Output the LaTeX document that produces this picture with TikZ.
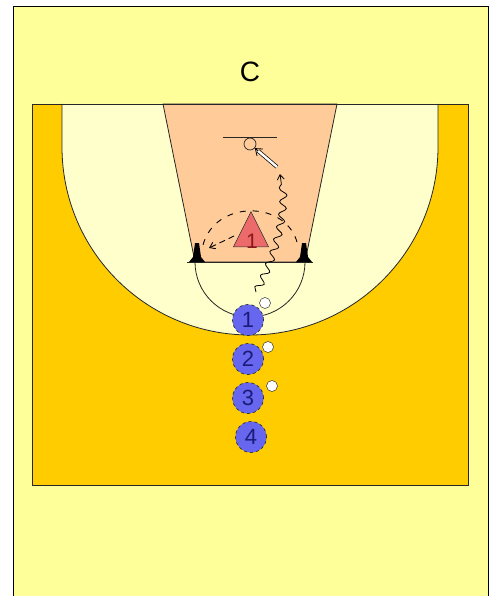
\documentclass[tikz,border=0pt]{standalone}
\usepackage{fontspec}
\setmainfont{Liberation Sans}
\usetikzlibrary{arrows, arrows.meta, shapes.geometric, calc, positioning, decorations.pathmorphing}

\definecolor{bgYellow}{HTML}{FFFF99}
\definecolor{courtOrange}{HTML}{FFCC00}
\definecolor{arcCream}{HTML}{FFFFCC}
\definecolor{lanePeach}{HTML}{FFCC99}
\definecolor{playerBlue}{HTML}{6666EE}
\definecolor{playerText}{HTML}{1C1C78}
\definecolor{defRed}{HTML}{EC6A6A}
\definecolor{defText}{HTML}{8A1818}

\begin{document}
\begin{tikzpicture}[x=1pt, y=-1pt]
    \def\plSize{31pt}
    \def\ballSize{11pt}
    \edef\courtLW{0.8pt}

    \tikzstyle{courtline} = [draw=black!85, line width=\courtLW]
    \tikzstyle{player} = [circle, draw=black!80, dashed, line width=0.7pt, fill=playerBlue, minimum size=\plSize, inner sep=0pt, text=playerText, font=\fontsize{22}{22}\selectfont]
    \tikzstyle{ball} = [circle, draw=black!80, line width=0.5pt, fill=white, minimum size=\ballSize, inner sep=0pt]
    \tikzstyle{defender} = [isosceles triangle, isosceles triangle stretches, shape border rotate=90, minimum width=35pt, minimum height=35pt, inner sep=0pt, draw=black!80, line width=0.6pt, fill=defRed]
    \tikzstyle{dribble} = [decorate, decoration={snake, amplitude=3.6pt, segment length=13pt, post length=7pt}, -{Straight Barb[length=5pt, width=7pt]}, line width=0.8pt]
    \tikzstyle{cut} = [dashed, dash pattern=on 6pt off 7pt, line width=0.9pt]
    \tikzstyle{shot} = [double, double distance=2.4pt, line width=0.7pt]

    \useasboundingbox (0,0) rectangle (490,596);
    \fill[white] (0,0) rectangle (490,596);

    % page and court
    \fill[bgYellow] (13,6) rectangle (488,596);
    \draw[line width=\courtLW] (13,596) -- (13,6) -- (488,6) -- (488,596);
    \node (title) at (250,72) {\fontsize{28}{28}\selectfont C};

    \fill[courtOrange] (32,104) rectangle (468,485);
    \fill[arcCream] (62,104) -- (62,147) arc[start angle=180, end angle=0, radius=188] -- (438,104) -- cycle;
    \draw[courtline] (62,104) -- (62,147) arc[start angle=180, end angle=0, radius=188] -- (438,104);
    \filldraw[courtline, fill=lanePeach] (163,104) -- (337,104) -- (305,262) -- (195,262) -- cycle;
    \draw[courtline] (32,104) rectangle (468,485);

    % free throw line and circle
    \draw[courtline] (187,262) -- (313,262);
    \draw[courtline] (195,262) arc[start angle=180, end angle=0, radius=55];

    % backboard and rim
    \draw[courtline] (223,137) -- (277,137);
    \node (rim) [circle, draw=black!85, line width=0.7pt, minimum size=12pt, inner sep=0pt] at (250,144) {};

    % cones
    \foreach \c/\cx in {L/197, R/304} {
        \coordinate (cone-\c) at (\cx,262);
        \fill[black] ($(cone-\c) + (-2,-19)$) -- ($(cone-\c) + (2,-19)$) -- ($(cone-\c) + (4,-5)$) -- ($(cone-\c) + (8,0)$)
            -- ($(cone-\c) + (-8,0)$) -- ($(cone-\c) + (-4,-5)$) -- cycle;
    }

    % defender
    \node (d-1) [defender] at (251,236) {};
    \node (d-1-lbl) [text=defText, font=\fontsize{21}{21}\selectfont] at (252,241) {1};

    % players in line, balls next to them
    \foreach \p/\px/\py in {1/248/320, 2/248/359, 3/248/398, 4/251/437} {
        \node (p-\p) [player] at (\px,\py) {\p};
    }
    \foreach \b/\bx/\by in {1/265/303, 2/268/347, 3/272/386} {
        \node (b-\b) [ball] at (\bx,\by) {};
    }

    % movements
    \coordinate (drib-start) at (256,292);
    \coordinate (drib-end) at (280,174);
    \draw [dribble] (drib-start) .. controls (268,270) and (288,222) .. (drib-end);
    \coordinate (shot-start) at (277,167);
    \coordinate (shot-mid) at ($(rim)!0.3!(shot-start)$);
    \draw [shot] (shot-start) -- (shot-mid);
    \draw [-{Straight Barb[length=6pt, width=9pt]}, line width=0.8pt] (shot-mid) -- (rim);

    \coordinate (cut-start) at (297,242);
    \coordinate (cut-end) at (203,245);
    \draw [cut] (cut-start) .. controls (285,200) and (215,200) .. (cut-end);
    \coordinate (run-start) at (234,236);
    \draw [cut, -{Straight Barb[length=5pt, width=7pt]}, dash pattern=on 6pt off 4pt] (run-start) -- ($(cone-L) + (12,-14)$);
\end{tikzpicture}
\end{document}
